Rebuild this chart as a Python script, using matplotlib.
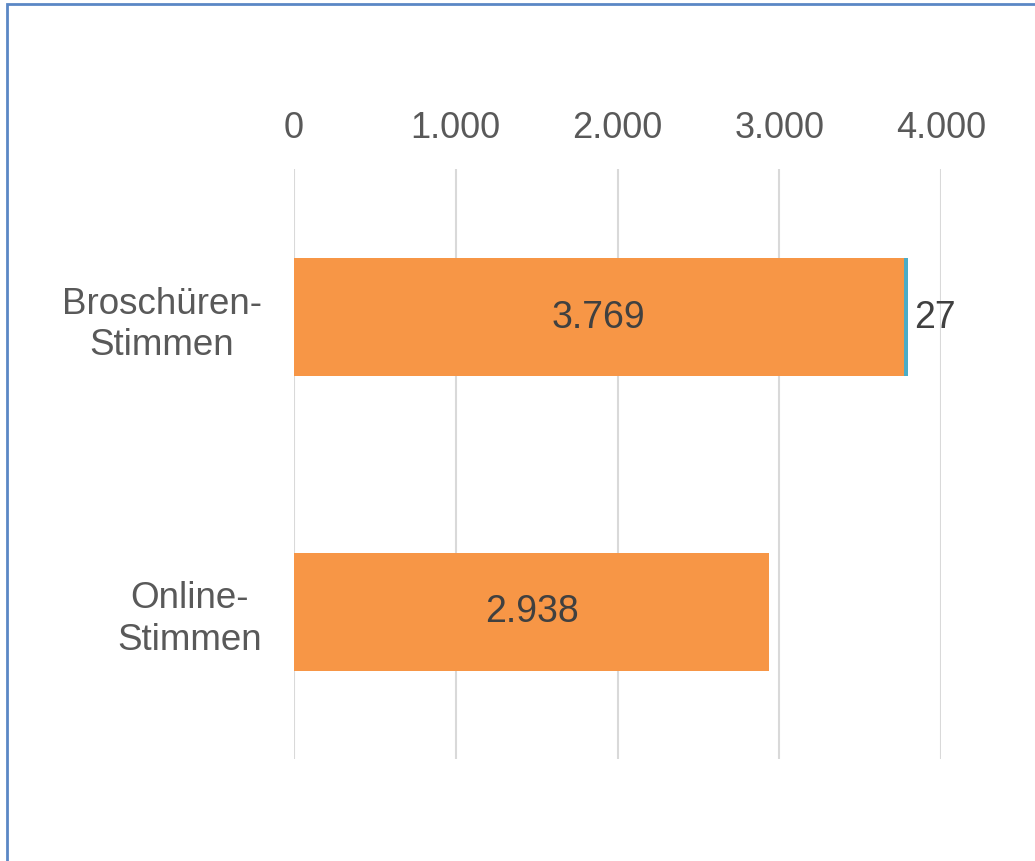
"""
Horizontal stacked bar: Broschüren- vs. Online-Stimmen.
"""

import matplotlib.pyplot as plt
from matplotlib.patches import Rectangle
from matplotlib.ticker import FuncFormatter

plt.rcParams["font.family"] = ["Liberation Sans", "DejaVu Sans"]

categories = ["Broschüren-\nStimmen", "Online-\nStimmen"]
main_votes = [3769, 2938]
extra_votes = [27, 0]
ticks = [0, 1000, 2000, 3000, 4000]

ORANGE = "#F79646"
TEAL = "#4BACC6"
GRID = "#D9D9D9"


def de_thousands(v, _pos=None):
    return f"{int(v):,}".replace(",", ".")


fig = plt.figure(figsize=(10.35, 8.62), dpi=100)
ax = fig.add_axes([294 / 1035, 1 - 760 / 862, 647 / 1035, 590 / 862])

ypos = list(range(len(categories)))
ax.barh(ypos, main_votes, height=0.4, color=ORANGE, zorder=2)
ax.barh(ypos, extra_votes, left=main_votes, height=0.4, color=TEAL, zorder=2)

for y, m, e in zip(ypos, main_votes, extra_votes):
    ax.text(m / 2, y, de_thousands(m), ha="center", va="center",
            fontsize=27, color="#404040")
    if e:
        ax.text(m + e + 40, y, de_thousands(e), ha="left", va="center",
                fontsize=27, color="#404040")

ax.set_xlim(0, 4000)
ax.set_ylim(1.5, -0.5)
ax.set_xticks(ticks)
ax.xaxis.set_major_formatter(FuncFormatter(de_thousands))
ax.xaxis.tick_top()
ax.tick_params(axis="x", length=0, pad=17, labelsize=26, labelcolor="#595959")
ax.set_yticks(ypos)
ax.set_yticklabels(categories, fontsize=26.5, color="#595959",
                   ha="right", multialignment="center", linespacing=1.25)
ax.tick_params(axis="y", length=0, pad=23)
ax.grid(axis="x", color=GRID, linewidth=1.5, zorder=0)
for s in ax.spines.values():
    s.set_visible(False)

fig.patches.append(Rectangle((7 / 1035, -0.1), 1.2, 1 - 5 / 862 + 0.1,
                             transform=fig.transFigure, fill=False,
                             edgecolor="#5B87C5", linewidth=2))

fig.savefig("out.png", dpi=100)
